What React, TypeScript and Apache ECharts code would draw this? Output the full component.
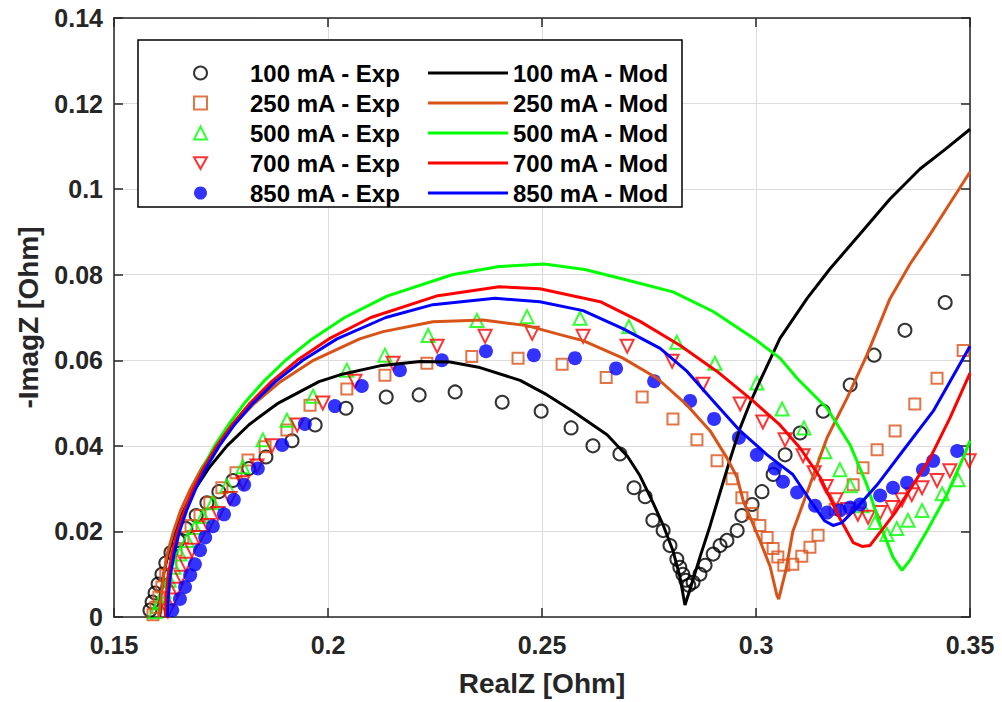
import React, { useEffect, useRef } from 'react';
import * as echarts from 'echarts';

const FONT = '"Liberation Sans", Arial, Helvetica, sans-serif';

const xTicks = [0.15, 0.2, 0.25, 0.3, 0.35];
const yTicks = [0, 0.02, 0.04, 0.06, 0.08, 0.1, 0.12, 0.14];

const expNames = ['100 mA - Exp', '250 mA - Exp', '500 mA - Exp', '700 mA - Exp', '850 mA - Exp'];
const modNames = ['100 mA - Mod', '250 mA - Mod', '500 mA - Mod', '700 mA - Mod', '850 mA - Mod'];
const colors = ['#000000', '#D95319', '#00FF00', '#FF0000', '#0000FF'];

const exp100 = [
  [0.1584, 0.0016], [0.1589, 0.0035], [0.1596, 0.0056], [0.1603, 0.0077], [0.1612, 0.01], [0.1621, 0.0126],
  [0.1633, 0.0151], [0.165, 0.0179], [0.1668, 0.0207], [0.1692, 0.0237], [0.1717, 0.0267], [0.1745, 0.0293],
  [0.1778, 0.0319], [0.1815, 0.0347], [0.1855, 0.0374], [0.1916, 0.0412], [0.197, 0.0449], [0.2042, 0.0488],
  [0.2136, 0.0514], [0.2213, 0.0519], [0.2297, 0.0526], [0.2407, 0.0502], [0.2498, 0.0481], [0.2568, 0.0442],
  [0.2619, 0.04], [0.2682, 0.0381], [0.2715, 0.0302], [0.2741, 0.0281], [0.2759, 0.0226], [0.2783, 0.0202],
  [0.2799, 0.0167], [0.2815, 0.0135], [0.2822, 0.0116], [0.2829, 0.01], [0.2836, 0.0086], [0.2843, 0.0074],
  [0.2853, 0.0081], [0.2869, 0.01], [0.2881, 0.0121], [0.29, 0.0147], [0.2916, 0.0167], [0.2932, 0.0179],
  [0.2956, 0.0202], [0.2967, 0.0237], [0.2991, 0.0263], [0.3014, 0.0293], [0.304, 0.0333], [0.3068, 0.0379],
  [0.3103, 0.043], [0.3157, 0.0481], [0.322, 0.0542], [0.3276, 0.0612], [0.3348, 0.067], [0.3442, 0.0735],
];
const exp250 = [
  [0.1591, 0.0005], [0.1598, 0.0023], [0.1605, 0.0047], [0.1612, 0.007], [0.1621, 0.0098], [0.1633, 0.0126],
  [0.1645, 0.0156], [0.1661, 0.0186], [0.168, 0.0214], [0.1701, 0.0237], [0.1724, 0.0267], [0.1752, 0.0302],
  [0.1785, 0.0337], [0.1813, 0.0367], [0.1853, 0.0398], [0.1904, 0.0437], [0.1958, 0.0495], [0.2044, 0.0533],
  [0.2133, 0.0565], [0.2231, 0.0593], [0.2336, 0.0609], [0.2444, 0.0605], [0.2547, 0.0591], [0.265, 0.056],
  [0.2734, 0.0514], [0.2806, 0.0463], [0.2862, 0.0414], [0.2909, 0.0365], [0.2944, 0.0323], [0.2967, 0.0279],
  [0.2991, 0.0242], [0.3009, 0.0214], [0.3026, 0.0186], [0.304, 0.016], [0.3051, 0.014], [0.3065, 0.0121],
  [0.3086, 0.0123], [0.3107, 0.0142], [0.3126, 0.0163], [0.3145, 0.0191], [0.3185, 0.0251], [0.3227, 0.0309],
  [0.325, 0.0349], [0.3283, 0.0391], [0.3325, 0.0435], [0.3371, 0.0498], [0.3423, 0.0558], [0.3484, 0.0623],
];
const exp500 = [
  [0.1596, 0.0012], [0.1607, 0.0035], [0.1617, 0.006], [0.1629, 0.0086], [0.164, 0.0116], [0.1654, 0.0147],
  [0.1671, 0.0179], [0.1689, 0.0209], [0.1708, 0.0235], [0.1731, 0.0267], [0.1764, 0.0307], [0.1801, 0.0351],
  [0.1848, 0.0414], [0.1904, 0.046], [0.1965, 0.0516], [0.2044, 0.0577], [0.2133, 0.0612], [0.2234, 0.0658],
  [0.2348, 0.0693], [0.2465, 0.0702], [0.2589, 0.0698], [0.2703, 0.0679], [0.2815, 0.0642], [0.2904, 0.0593],
  [0.3002, 0.0547], [0.3061, 0.0486], [0.3112, 0.0442], [0.3161, 0.0386], [0.3196, 0.0344], [0.322, 0.0307],
  [0.3248, 0.026], [0.3278, 0.0221], [0.3306, 0.0193], [0.3329, 0.0207], [0.3355, 0.0226], [0.3388, 0.0249],
  [0.3435, 0.0288], [0.3472, 0.0321],
];
const exp700 = [
  [0.1626, 0.0014], [0.1638, 0.004], [0.1647, 0.0065], [0.1657, 0.0093], [0.1668, 0.0123], [0.1682, 0.0156],
  [0.1699, 0.0186], [0.172, 0.0214], [0.1743, 0.0242], [0.1771, 0.0277], [0.1801, 0.0314], [0.1834, 0.0353],
  [0.1869, 0.04], [0.1928, 0.0449], [0.1988, 0.05], [0.2063, 0.0551], [0.2152, 0.0593], [0.2255, 0.0633],
  [0.2367, 0.0656], [0.2477, 0.0663], [0.2596, 0.0656], [0.2699, 0.0633], [0.2804, 0.0598], [0.2876, 0.0544],
  [0.2963, 0.0498], [0.3016, 0.0456], [0.3068, 0.0414], [0.311, 0.0377], [0.3136, 0.0337], [0.3164, 0.0305],
  [0.3187, 0.0274], [0.3215, 0.0251], [0.3238, 0.024], [0.3262, 0.0233], [0.329, 0.0244], [0.3318, 0.0256],
  [0.3341, 0.0274], [0.3364, 0.0286], [0.3388, 0.0302], [0.3423, 0.0319], [0.3453, 0.0342], [0.3498, 0.0365],
];
const exp850 = [
  [0.1636, 0.0016], [0.1654, 0.0042], [0.1666, 0.007], [0.1678, 0.0098], [0.1689, 0.0123], [0.1701, 0.0156],
  [0.1713, 0.0186], [0.1731, 0.0212], [0.1757, 0.024], [0.178, 0.0274], [0.1804, 0.0309], [0.1836, 0.0347],
  [0.1893, 0.0402], [0.1946, 0.0451], [0.2016, 0.0493], [0.2079, 0.054], [0.2168, 0.0577], [0.2266, 0.06],
  [0.2369, 0.0621], [0.2481, 0.0612], [0.2577, 0.0605], [0.2673, 0.0581], [0.2762, 0.0551], [0.2846, 0.0505],
  [0.2902, 0.0463], [0.296, 0.0419], [0.3002, 0.0379], [0.3044, 0.0347], [0.3063, 0.0316], [0.3096, 0.0291],
  [0.3138, 0.026], [0.3166, 0.0244], [0.3196, 0.0249], [0.322, 0.0256], [0.3243, 0.0263], [0.329, 0.0284],
  [0.332, 0.0302], [0.3353, 0.0314], [0.339, 0.0344], [0.3414, 0.0365], [0.347, 0.0388],
];

const mod100 = [
  [0.1607, 0], [0.1609, 0.005], [0.1616, 0.01], [0.1627, 0.015], [0.1642, 0.02], [0.1663, 0.025], [0.169, 0.03],
  [0.1723, 0.035], [0.1764, 0.04], [0.1816, 0.045], [0.1884, 0.05], [0.1979, 0.055], [0.2028, 0.0566],
  [0.2121, 0.0587], [0.2215, 0.0597], [0.2285, 0.0596], [0.2355, 0.0583], [0.2449, 0.0553], [0.2512, 0.0519],
  [0.2572, 0.0481], [0.2652, 0.0426], [0.27, 0.0375], [0.2729, 0.033], [0.2759, 0.0268], [0.2783, 0.0215],
  [0.2806, 0.0155], [0.2822, 0.0095], [0.2834, 0.0028], [0.2846, 0.0065], [0.2869, 0.014], [0.2893, 0.0214],
  [0.2916, 0.0291], [0.2939, 0.0367], [0.2963, 0.0442], [0.2986, 0.05], [0.3009, 0.0551], [0.3056, 0.0651],
  [0.3119, 0.0744], [0.3173, 0.0814], [0.3243, 0.0895], [0.3313, 0.0977], [0.3383, 0.1047], [0.3442, 0.1093],
  [0.35, 0.114],
];
const mod250 = [
  [0.1605, 0], [0.161, 0.005], [0.1616, 0.01], [0.1625, 0.015], [0.1639, 0.02], [0.1656, 0.025], [0.1679, 0.03],
  [0.1706, 0.035], [0.174, 0.04], [0.178, 0.045], [0.1829, 0.05], [0.1889, 0.055], [0.1966, 0.06], [0.2074, 0.065],
  [0.2129, 0.0667], [0.2245, 0.069], [0.2362, 0.0694], [0.2465, 0.0681], [0.2542, 0.066], [0.2596, 0.0646],
  [0.2689, 0.0605], [0.2769, 0.0558], [0.2839, 0.0495], [0.2893, 0.0435], [0.2932, 0.0372], [0.2956, 0.0326],
  [0.297, 0.0272], [0.3009, 0.0179], [0.3033, 0.0118], [0.3049, 0.005], [0.3053, 0.0042], [0.307, 0.011],
  [0.3086, 0.02], [0.3126, 0.0309], [0.3166, 0.0419], [0.3213, 0.0512], [0.3259, 0.0612], [0.3313, 0.0744],
  [0.336, 0.0825], [0.3407, 0.0895], [0.3455, 0.097], [0.35, 0.104],
];
const mod500 = [
  [0.1625, 0], [0.1627, 0.005], [0.1632, 0.01], [0.164, 0.015], [0.1651, 0.02], [0.1666, 0.025], [0.1685, 0.03],
  [0.1708, 0.035], [0.1735, 0.04], [0.1768, 0.045], [0.1805, 0.05], [0.1849, 0.055], [0.1901, 0.06], [0.1963, 0.065],
  [0.2039, 0.07], [0.2138, 0.075], [0.229, 0.08], [0.24, 0.0819], [0.2505, 0.0825], [0.26, 0.0812], [0.2689, 0.079],
  [0.2806, 0.076], [0.29, 0.0714], [0.3002, 0.0646], [0.3056, 0.0605], [0.3096, 0.0558], [0.3166, 0.0488],
  [0.322, 0.0402], [0.3259, 0.0309], [0.329, 0.0216], [0.332, 0.014], [0.3341, 0.0109], [0.336, 0.0133],
  [0.34, 0.0202], [0.3446, 0.0286], [0.3484, 0.0372], [0.35, 0.0412],
];
const mod700 = [
  [0.162, 0], [0.1622, 0.005], [0.1627, 0.01], [0.1636, 0.015], [0.1648, 0.02], [0.1665, 0.025], [0.1685, 0.03],
  [0.171, 0.035], [0.174, 0.04], [0.1776, 0.045], [0.1818, 0.05], [0.1868, 0.055], [0.1928, 0.06], [0.2002, 0.065],
  [0.21, 0.07], [0.2253, 0.075], [0.24, 0.0772], [0.2495, 0.0767], [0.2636, 0.0737], [0.2729, 0.0691],
  [0.2822, 0.0635], [0.2909, 0.0574], [0.2993, 0.0505], [0.3056, 0.0449], [0.3103, 0.0395], [0.315, 0.0326],
  [0.3196, 0.023], [0.3227, 0.0174], [0.3248, 0.0165], [0.3266, 0.0167], [0.329, 0.0198], [0.3325, 0.0244],
  [0.336, 0.0298], [0.3407, 0.0372], [0.3453, 0.0465], [0.35, 0.057],
];
const mod850 = [
  [0.1625, 0], [0.1627, 0.005], [0.1632, 0.01], [0.1641, 0.015], [0.1653, 0.02], [0.167, 0.025], [0.1691, 0.03],
  [0.1716, 0.035], [0.1746, 0.04], [0.1782, 0.045], [0.1825, 0.05], [0.1877, 0.055], [0.1941, 0.06], [0.2021, 0.065],
  [0.2135, 0.07], [0.2245, 0.073], [0.239, 0.0745], [0.2495, 0.0737], [0.2596, 0.0716], [0.2689, 0.0674],
  [0.2776, 0.0628], [0.2839, 0.0574], [0.29, 0.0505], [0.2963, 0.0435], [0.3026, 0.0379], [0.3086, 0.0333],
  [0.3133, 0.0263], [0.316, 0.0225], [0.318, 0.0214], [0.32, 0.022], [0.3236, 0.0256], [0.3283, 0.0309],
  [0.3343, 0.0388], [0.3414, 0.0481], [0.35, 0.0633],
];

const expData = [exp100, exp250, exp500, exp700, exp850];
const modData = [mod100, mod250, mod500, mod700, mod850];
const expSymbols = ['circle', 'rect', 'triangle', 'triangle', 'circle'];
const expRotate = [0, 0, 0, 180, 0];
const expSizes = [13, 11, 13, 13, 14];
const expFilled = [false, false, false, false, true];
const legendIcons = ['circle', 'rect', 'triangle', 'path://M0,0 L10,0 L5,9 Z', 'circle'];

const fmt = (v: number) => String(Number(v.toFixed(3)));

export default function App() {
  const ref = useRef<HTMLDivElement>(null);
  useEffect(() => {
    const chart = echarts.init(ref.current as HTMLDivElement, null, { renderer: 'svg' });
    const axisColor = '#262626';
    const labelStyle = { fontSize: 25, fontWeight: 'bold' as const, color: axisColor, fontFamily: FONT };
    const expSeries = expNames.map((name, i) => ({
      type: 'scatter',
      name,
      data: expData[i],
      symbol: expSymbols[i],
      symbolRotate: expRotate[i],
      symbolSize: expSizes[i],
      itemStyle: expFilled[i]
        ? { color: colors[i], borderColor: colors[i], borderWidth: 0 }
        : { color: 'rgba(255,255,255,0)', borderColor: colors[i], borderWidth: 2 },
      z: 2,
    }));
    const modSeries = modNames.map((name, i) => ({
      type: 'line',
      name,
      data: modData[i],
      symbol: 'none',
      showSymbol: false,
      lineStyle: { color: colors[i], width: 3 },
      itemStyle: { color: colors[i] },
      z: 3,
    }));
    const legendText = { fontSize: 24, fontWeight: 'bold' as const, color: '#000', fontFamily: FONT, lineHeight: 24 };
    chart.setOption({
      animation: false,
      backgroundColor: '#ffffff',
      grid: { left: 114, right: 32, top: 18, bottom: 82, show: false },
      xAxis: [
        {
          type: 'value', min: 0.15, max: 0.35, interval: 0.05,
          axisLine: { show: true, onZero: false, lineStyle: { color: axisColor, width: 1.5 } },
          axisTick: { show: true, inside: true, length: 9, lineStyle: { color: axisColor, width: 1.5 } },
          splitLine: { show: true, lineStyle: { color: '#dcdcdc', width: 1 } },
          axisLabel: { ...labelStyle, margin: 15, formatter: fmt },
          name: 'RealZ [Ohm]', nameLocation: 'middle', nameGap: 52,
          nameTextStyle: { fontSize: 28, fontWeight: 'bold', color: axisColor, fontFamily: FONT },
        },
        {
          type: 'value', min: 0.15, max: 0.35, interval: 0.05, position: 'top',
          axisLine: { show: true, onZero: false, lineStyle: { color: axisColor, width: 1.5 } },
          axisTick: { show: true, inside: true, length: 9, lineStyle: { color: axisColor, width: 1.5 } },
          splitLine: { show: false }, axisLabel: { show: false },
        },
      ],
      yAxis: [
        {
          type: 'value', min: 0, max: 0.14, interval: 0.02,
          axisLine: { show: true, onZero: false, lineStyle: { color: axisColor, width: 1.5 } },
          axisTick: { show: true, inside: true, length: 9, lineStyle: { color: axisColor, width: 1.5 } },
          splitLine: { show: true, lineStyle: { color: '#dcdcdc', width: 1 } },
          axisLabel: { ...labelStyle, margin: 11, formatter: fmt },
          name: '-ImagZ [Ohm]', nameLocation: 'middle', nameGap: 72, nameRotate: 90,
          nameTextStyle: { fontSize: 28, fontWeight: 'bold', color: axisColor, fontFamily: FONT },
        },
        {
          type: 'value', min: 0, max: 0.14, interval: 0.02, position: 'right',
          axisLine: { show: true, onZero: false, lineStyle: { color: axisColor, width: 1.5 } },
          axisTick: { show: true, inside: true, length: 9, lineStyle: { color: axisColor, width: 1.5 } },
          splitLine: { show: false }, axisLabel: { show: false },
        },
      ],
      legend: [
        {
          data: expNames.map((name, i) => ({ name, icon: legendIcons[i] })),
          orient: 'vertical', left: 188, top: 56, itemWidth: 13, itemHeight: 13, itemGap: 6,
          textStyle: { ...legendText, padding: [0, 0, 0, 38] }, selectedMode: false,
        },
        {
          data: modNames, orient: 'vertical', left: 423, top: 56, itemWidth: 80, itemHeight: 3, itemGap: 6,
          icon: 'rect', textStyle: legendText, selectedMode: false,
        },
      ],
      graphic: [
        {
          type: 'rect', z: 3,
          shape: { x: 138, y: 40, width: 544, height: 167 },
          style: { fill: '#ffffff', stroke: '#000000', lineWidth: 1.5 },
        },
      ],
      series: [...expSeries, ...modSeries],
    });
    return () => chart.dispose();
  }, []);
  return (
    <div
      ref={ref}
      style={{ position: 'absolute', left: 0, top: 0, width: 1002, height: 702, background: '#fff' }}
    />
  );
}
